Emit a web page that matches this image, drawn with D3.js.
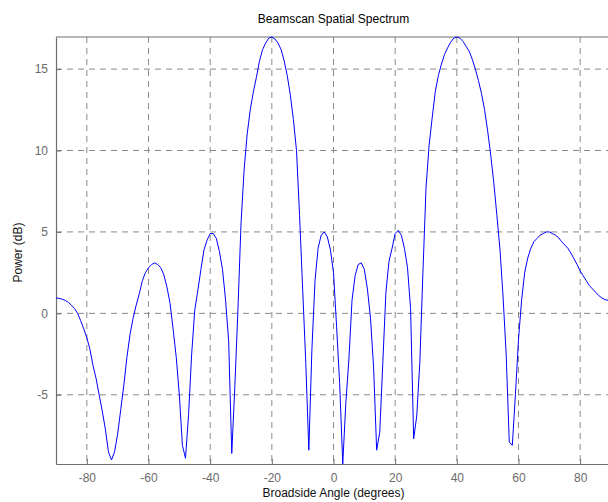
<!DOCTYPE html>
<html>
<head>
<meta charset="utf-8">
<script src="https://cdn.jsdelivr.net/npm/d3@7.9.0/dist/d3.min.js"></script>
<style>
  body { margin: 0; background: #fff; }
  svg { display: block; font-family: "Liberation Sans", Arial, sans-serif; }
</style>
</head>
<body>
<div id="chart"></div>
<script>
// Scan angles (degrees), one per degree from -90 to 90
const angles = d3.range(-90, 91);

// Power (dB), one value per angle
const power = [
  0.95, 0.92, 0.87, 0.8, 0.68, 0.5, 0.3, 0.0, -0.45, -0.95,        // -90..-81
  -1.5, -2.2, -3.2, -4.0, -5.0, -6.0, -7.1, -8.5, -9.0, -8.5,      // -80..-71
  -7.4, -5.9, -4.4, -2.7, -1.3, -0.3, 0.5, 1.2, 2.0, 2.5,          // -70..-61
  2.8, 3.0, 3.1, 3.0, 2.8, 2.35, 1.6, 0.6, -1.0, -2.7,             // -60..-51
  -5.0, -8.1, -8.9, -6.2, -2.5, 0.2, 1.4, 2.7, 3.9, 4.5,           // -50..-41
  4.9, 4.9, 4.6, 3.8, 2.7, 0.8, -1.7, -8.6, -4.5, 0.2,             // -40..-31
  5.5, 8.8, 11.0, 12.5, 13.6, 14.5, 15.5, 16.2, 16.6, 16.9,        // -30..-21
  16.97, 16.85, 16.6, 16.2, 15.5, 14.6, 13.4, 11.9, 10.0, 6.0,     // -20..-11
  1.5, -3.0, -8.4, -2.2, 2.0, 4.0, 4.8, 5.0, 4.7, 3.9,             // -10..-1
  2.5, -0.8, -4.3, -9.25, -5.5, -2.8, 0.8, 2.3, 3.0, 3.1,          // 0..9
  2.7, 1.5, -0.3, -3.3, -8.4, -7.3, -3.0, 1.3, 3.2, 4.0,           // 10..19
  4.9, 5.1, 4.8, 4.0, 2.8, 0.3, -7.7, -6.3, -3.0, 2.5,             // 20..29
  7.7, 10.3, 12.0, 13.6, 14.6, 15.3, 15.9, 16.3, 16.65, 16.9,      // 30..39
  16.97, 16.9, 16.7, 16.4, 16.1, 15.6, 15.0, 14.3, 13.5, 12.5,     // 40..49
  11.2, 9.7, 8.0, 6.0, 3.9, 1.0, -2.5, -7.9, -8.1, -5.0,           // 50..59
  -1.6, 0.8, 2.5, 3.4, 4.0, 4.4, 4.6, 4.8, 4.9, 5.0,               // 60..69
  5.0, 4.9, 4.8, 4.65, 4.4, 4.2, 4.0, 3.7, 3.35, 3.0,              // 70..79
  2.6, 2.3, 2.0, 1.7, 1.5, 1.3, 1.1, 0.95, 0.85, 0.8,              // 80..89
  0.75                                                             // 90
];

const xTicks = [-80, -60, -40, -20, 0, 20, 40, 60, 80];
const yTicks = [-5, 0, 5, 10, 15];

const data = angles.map((a, i) => ({ angle: a, power: power[i] }));

const W = 608, H = 502;
const margin = { top: 37, right: -3, bottom: 38, left: 56 };
const width = W - margin.left - margin.right;
const height = H - margin.top - margin.bottom;

const svg = d3.select("#chart").append("svg")
  .attr("width", W)
  .attr("height", H);

const g = svg.append("g")
  .attr("transform", `translate(${margin.left},${margin.top})`);

const x = d3.scaleLinear().domain([-90, 90]).range([0, width]);
const y = d3.scaleLinear().domain([d3.min(power), d3.max(power)]).range([height, 0]);

const gridColor = "#8a8a8a";
const axisColor = "#6e6e6e";

// dashed grid
g.append("g").selectAll("line")
  .data(xTicks)
  .join("line")
    .attr("x1", d => x(d)).attr("x2", d => x(d))
    .attr("y1", 0).attr("y2", height)
    .attr("stroke", gridColor)
    .attr("stroke-dasharray", "6,5");

g.append("g").selectAll("line")
  .data(yTicks)
  .join("line")
    .attr("x1", 0).attr("x2", width)
    .attr("y1", d => y(d)).attr("y2", d => y(d))
    .attr("stroke", gridColor)
    .attr("stroke-dasharray", "6,5");

// axes (ticks pointing inward, MATLAB style), plain hyphen for negatives
const fmt = d => String(d);

const xAxis = g.append("g")
  .attr("transform", `translate(0,${height})`)
  .call(d3.axisBottom(x).tickValues(xTicks).tickFormat(fmt)
    .tickSizeInner(-5).tickSizeOuter(0).tickPadding(9));

const yAxis = g.append("g")
  .call(d3.axisLeft(y).tickValues(yTicks).tickFormat(fmt)
    .tickSizeInner(-5).tickSizeOuter(0).tickPadding(8));

[xAxis, yAxis].forEach(ax => {
  ax.select(".domain").attr("stroke", axisColor).attr("stroke-width", 1.2);
  ax.selectAll(".tick line").attr("stroke", axisColor);
  ax.selectAll(".tick text")
    .attr("fill", "#6a6a6a")
    .style("font-size", "12px")
    .style("font-family", "Liberation Sans, Arial, sans-serif");
});

// top border
g.append("line")
  .attr("x1", 0).attr("x2", width)
  .attr("y1", 0).attr("y2", 0)
  .attr("stroke", axisColor)
  .attr("stroke-width", 1.2);

// spectrum line
const line = d3.line()
  .x(d => x(d.angle))
  .y(d => y(d.power));

g.append("path")
  .datum(data)
  .attr("fill", "none")
  .attr("stroke", "#0000ff")
  .attr("stroke-width", 1)
  .attr("d", line);

// title and labels
svg.append("text")
  .attr("x", margin.left + width / 2)
  .attr("y", 23)
  .attr("text-anchor", "middle")
  .style("font-size", "12px")
  .attr("fill", "#000")
  .text("Beamscan Spatial Spectrum");

svg.append("text")
  .attr("x", margin.left + width / 2)
  .attr("y", 497)
  .attr("text-anchor", "middle")
  .style("font-size", "12px")
  .attr("fill", "#111")
  .text("Broadside Angle (degrees)");

svg.append("text")
  .attr("transform", `translate(22,${margin.top + height / 2 + 2}) rotate(-90)`)
  .attr("text-anchor", "middle")
  .style("font-size", "12px")
  .attr("fill", "#111")
  .text("Power (dB)");
</script>
</body>
</html>
